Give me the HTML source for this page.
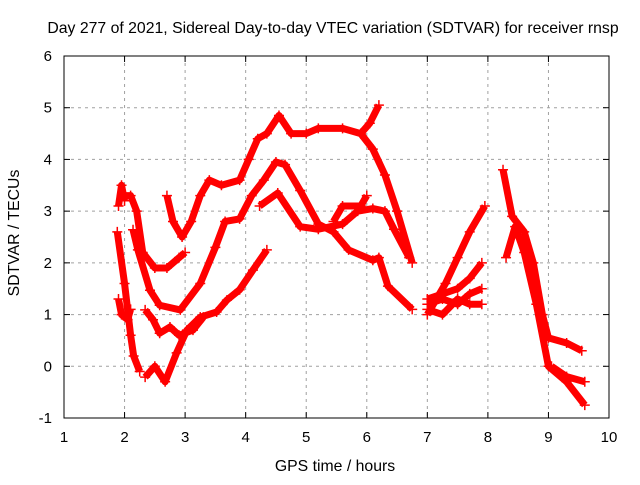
<!DOCTYPE html>
<html><head><meta charset="utf-8"><style>
body{margin:0;background:#fff}
svg{font-family:"Liberation Sans",sans-serif;}
</style></head><body>
<svg id="chart" width="640" height="480">
<text x="333" y="33" font-size="15.8" text-anchor="middle">Day 277 of 2021, Sidereal Day-to-day VTEC variation (SDTVAR) for receiver rnsp</text>
<text x="335" y="471" font-size="15.8" text-anchor="middle">GPS time / hours</text>
<text transform="translate(19,233) rotate(-90)" font-size="15.8" text-anchor="middle">SDTVAR / TECUs</text>
<g id="grid"></g><g id="marks"></g>
<rect x="64" y="56" width="545" height="362" fill="none" stroke="#000" stroke-width="1"/>
</svg>
<script>
const xTicks=[1,2,3,4,5,6,7,8,9,10];
const yTicks=[-1,0,1,2,3,4,5,6];
const trackA=[[2.7,3.3],[2.8,2.8],[2.95,2.5],[3.1,2.8],[3.25,3.3],[3.4,3.6],[3.6,3.5],[3.9,3.6],[4.05,4.0],[4.2,4.4],[4.35,4.5],[4.55,4.85],[4.75,4.5],[5.0,4.5],[5.2,4.6],[5.6,4.6],[5.9,4.5],[6.1,4.2],[6.3,3.7],[6.5,3.0],[6.75,2.0]];
const trackA2=[[5.9,4.5],[6.05,4.7],[6.2,5.05]];
const trackB=[[1.95,3.3],[2.1,3.3],[2.2,3.0],[2.3,2.2],[2.5,1.9],[2.7,1.9],[2.9,2.1],[3.0,2.2]];
const trackC=[[2.14,2.64],[2.22,2.25],[2.42,1.47],[2.58,1.18],[2.92,1.09],[3.25,1.6],[3.5,2.3],[3.66,2.8],[3.9,2.85],[4.1,3.3],[4.3,3.6],[4.5,3.95],[4.65,3.9],[4.9,3.4],[5.2,2.75],[5.45,2.6],[5.7,2.25],[6.1,2.05],[6.2,2.1],[6.35,1.55],[6.75,1.1]];
const trackD=[[4.23,3.1],[4.53,3.35],[4.9,2.7],[5.2,2.65],[5.6,2.75],[5.85,3.0],[6.1,3.05],[6.3,3.0],[6.45,2.65],[6.7,2.1]];
const trackD2=[[5.45,2.8],[5.6,3.1],[5.9,3.1],[6.0,3.3]];
const trackE=[[2.34,-0.21],[2.5,0.0],[2.67,-0.3],[2.86,0.26],[3.03,0.7],[3.25,0.95],[3.52,1.05],[3.69,1.28],[3.9,1.48],[4.12,1.86],[4.35,2.25]];
const trackF=[[2.34,1.09],[2.47,0.9],[2.58,0.64],[2.75,0.76],[2.9,0.6],[3.13,0.7],[3.3,0.95]];
const trackL1=[[1.88,2.6],[2.0,1.6],[2.1,0.6],[2.15,0.2],[2.25,-0.1]];
const trackL2=[[1.9,1.3],[1.95,1.0],[2.05,0.9],[2.1,1.1]];
const trackL3=[[1.9,3.1],[1.95,3.5],[2.0,3.2]];
const trackG1=[[7.0,1.0],[7.15,1.3],[7.3,1.6],[7.5,2.1],[7.7,2.6],[7.95,3.1]];
const trackG2=[[7.0,1.3],[7.25,1.4],[7.5,1.5],[7.7,1.7],[7.9,2.0]];
const trackG3=[[7.0,1.2],[7.25,1.3],[7.5,1.2],[7.7,1.4],[7.9,1.5]];
const trackG4=[[7.0,1.1],[7.25,1.0],[7.5,1.3],[7.7,1.2],[7.9,1.2]];
const trackH1=[[8.25,3.8],[8.4,2.9],[8.6,2.6],[8.75,2.0],[8.9,1.0],[9.0,0.55],[9.3,0.45],[9.55,0.3]];
const trackH2=[[8.3,2.1],[8.45,2.7],[8.6,2.2],[8.8,1.2],[9.0,0.0],[9.3,-0.3],[9.6,-0.75]];
const trackH3=[[9.05,0.0],[9.3,-0.2],[9.6,-0.3]];
const tracks=[trackA,trackA2,trackB,trackC,trackD,trackD2,trackE,trackF,trackL1,trackL2,trackL3,trackG1,trackG2,trackG3,trackG4,trackH1,trackH2,trackH3];
const NS='http://www.w3.org/2000/svg';
const X0=64,X1=609,Y0=418,Y1=56;
function sx(h){return X0+(h-1)/(10-1)*(X1-X0);}
function sy(v){return Y0-(v+1)/(6+1)*(Y0-Y1);}
const grid=document.getElementById('grid'),marks=document.getElementById('marks');
xTicks.forEach(t=>{const x=sx(t);
 if(t>1&&t<10){const l=document.createElementNS(NS,'line');l.setAttribute('x1',x);l.setAttribute('x2',x);l.setAttribute('y1',Y1);l.setAttribute('y2',Y0);l.setAttribute('stroke','#a0a0a0');l.setAttribute('stroke-dasharray','3,4');
 
 grid.appendChild(l);}
 [[Y0,Y0-6],[Y1,Y1+6]].forEach(p=>{const k=document.createElementNS(NS,'line');k.setAttribute('x1',x);k.setAttribute('x2',x);k.setAttribute('y1',p[0]);k.setAttribute('y2',p[1]);k.setAttribute('stroke','#000');
 
 grid.appendChild(k);});
 const tx=document.createElementNS(NS,'text');tx.setAttribute('x',x);tx.setAttribute('y',442);tx.setAttribute('font-size','15');tx.setAttribute('text-anchor','middle');tx.textContent=t;
 
 grid.appendChild(tx);});
yTicks.forEach(t=>{const y=sy(t);
 if(t>-1&&t<6){const l=document.createElementNS(NS,'line');l.setAttribute('x1',X0);l.setAttribute('x2',X1);l.setAttribute('y1',y);l.setAttribute('y2',y);l.setAttribute('stroke','#a0a0a0');l.setAttribute('stroke-dasharray','3,4');
 
 grid.appendChild(l);}
 [[X0,X0+6],[X1,X1-6]].forEach(p=>{const k=document.createElementNS(NS,'line');k.setAttribute('y1',y);k.setAttribute('y2',y);k.setAttribute('x1',p[0]);k.setAttribute('x2',p[1]);k.setAttribute('stroke','#000');
 
 grid.appendChild(k);});
 const tx=document.createElementNS(NS,'text');tx.setAttribute('x',52);tx.setAttribute('y',y+5);tx.setAttribute('font-size','15');tx.setAttribute('text-anchor','end');tx.textContent=t;
 
 grid.appendChild(tx);});
tracks.forEach(tr=>{
 const pl=document.createElementNS(NS,'polyline');
 pl.setAttribute('points',tr.map(p=>sx(p[0])+','+sy(p[1])).join(' '));
 pl.setAttribute('fill','none');pl.setAttribute('stroke','#ff0000');pl.setAttribute('stroke-width','7');pl.setAttribute('stroke-linejoin','round');
 
 
 marks.appendChild(pl);
 tr.forEach(p=>{const x=sx(p[0]),y=sy(p[1]);
  const m=document.createElementNS(NS,'path');
  m.setAttribute('d',`M${x-5},${y}H${x+5}M${x},${y-5}V${y+5}`);m.setAttribute('stroke','#ff0000');m.setAttribute('stroke-width','1.5');
  
  
  marks.appendChild(m);});
});
</script>
</body></html>
